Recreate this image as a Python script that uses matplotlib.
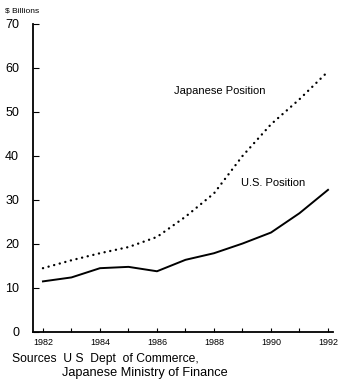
import matplotlib
matplotlib.use("Agg")
import matplotlib.pyplot as plt

years = [1982, 1983, 1984, 1985, 1986, 1987, 1988, 1989, 1990, 1991, 1992]
us_position = [11.5, 12.4, 14.5, 14.8, 13.8, 16.4, 17.9, 20.1, 22.6, 27.0, 32.3]
japan_position = [14.5, 16.3, 17.9, 19.3, 21.6, 26.2, 31.5, 40.0, 47.2, 52.9, 59.2]
x_ticks = [1982, 1984, 1986, 1988, 1990, 1992]
y_ticks = [0, 10, 20, 30, 40, 50, 60, 70]

plt.rcParams["font.family"] = ["Liberation Sans", "DejaVu Sans"]

fig = plt.figure(figsize=(3.38, 3.85), dpi=100)
ax = fig.add_axes([0.0976, 0.1377, 0.888, 0.80])

ax.plot(years, us_position, color="black", linewidth=1.4, solid_joinstyle="round")
ax.plot(years, japan_position, color="black", linewidth=1.7,
        linestyle=(0, (0.05, 2.4)), dash_capstyle="round")

ax.set_xlim(1981.65, 1992.18)
ax.set_ylim(0, 70)
ax.set_xticks(x_ticks)
ax.set_yticks(y_ticks)
ax.set_xticks(years, minor=True)
ax.tick_params(axis="y", direction="in", length=4, width=0.8, labelsize=9, pad=10)
ax.tick_params(axis="x", which="both", direction="in", length=3, width=0.8,
               labelsize=6.5, pad=4)
ax.set_xticklabels([str(y) for y in x_ticks])

for side in ("top", "right"):
    ax.spines[side].set_visible(False)
for side in ("left", "bottom"):
    ax.spines[side].set_linewidth(1.3)

ax.text(1986.6, 54.7, "Japanese Position", fontsize=8, ha="left", va="center")
ax.text(1988.95, 33.8, "U.S. Position", fontsize=8, ha="left", va="center")

fig.text(0.015, 0.972, "$ Billions", fontsize=6, ha="left", va="center")
fig.text(0.036, 0.0675, "Sources  U S  Dept  of Commerce,", fontsize=8.7, ha="left", va="center")
fig.text(0.183, 0.031, "Japanese Ministry of Finance", fontsize=9.2, ha="left", va="center")

fig.savefig("out.png", dpi=100, facecolor="white")
